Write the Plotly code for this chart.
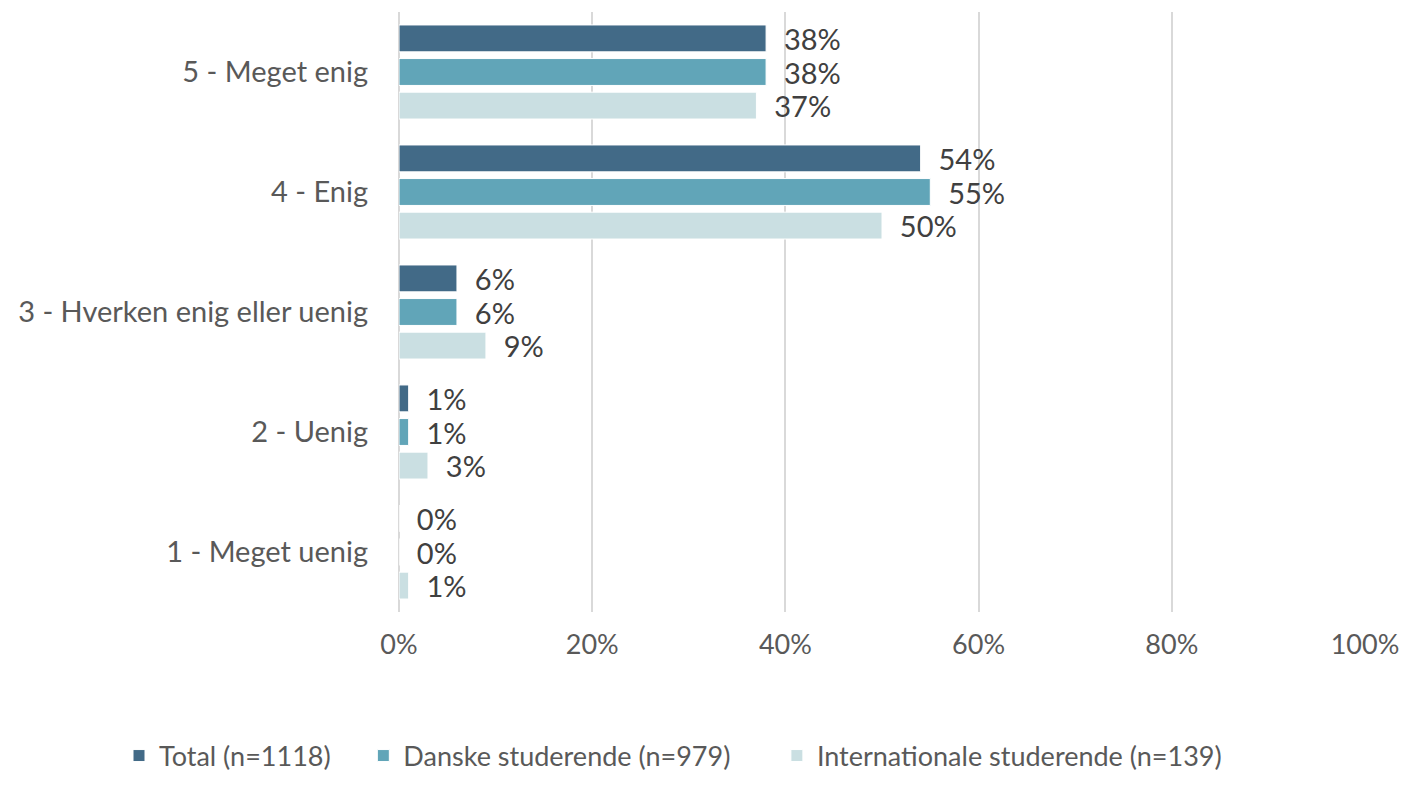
import plotly.graph_objects as go

categories = ["5 - Meget enig", "4 - Enig", "3 - Hverken enig eller uenig", "2 - Uenig", "1 - Meget uenig"]
total = [38, 54, 6, 1, 0]
danske = [38, 55, 6, 1, 0]
intl = [37, 50, 9, 3, 1]
series_names = ["Total (n=1118)", "Danske studerende (n=979)", "Internationale studerende (n=139)"]
colors = ["#426A87", "#61A5B8", "#CADFE2"]
x_ticks = [0, 20, 40, 60, 80, 100]
x_tick_labels = ["0%", "20%", "40%", "60%", "80%", "100%"]

FONT = "Lato"
FS = 29
pads = [4, 6, 0]
fig = go.Figure()
for name, vals, col, p in zip(series_names, [total, danske, intl], colors, pads):
    fig.add_trace(go.Bar(
        y=categories, x=vals, name=name + "\u00a0" * p, orientation="h",
        marker=dict(color=col, line=dict(color="white", width=1)),
        text=[f"\u00a0\u00a0{v}%" for v in vals], textposition="outside",
        constraintext="none",
        textfont=dict(family=FONT, size=FS, color="#404040"),
        cliponaxis=False,
    ))

# page body has an 8px margin: figure is placed at (8, 8)
L, R = 391, 34
W = 1391
PW = W - L - R
fig.update_layout(
    width=W, height=771,
    paper_bgcolor="white", plot_bgcolor="white",
    margin=dict(l=L, r=R, t=4, b=167, autoexpand=False),
    barmode="group", bargap=0.16, bargroupgap=0.2,
    font=dict(family=FONT, size=FS, color="#595959"),
    xaxis=dict(range=[0, 100], tickvals=x_ticks, ticktext=x_tick_labels,
               showgrid=True, gridcolor="#D9D9D9", gridwidth=1.5,
               zeroline=True, zerolinecolor="#D9D9D9", zerolinewidth=1.5,
               showline=False, ticks="", ticklabelstandoff=14,
               ticklabeloverflow="allow",
               tickfont=dict(family=FONT, size=27, color="#595959")),
    yaxis=dict(autorange="reversed", showgrid=False, showline=False, ticks="",
               ticklabelstandoff=30,
               tickfont=dict(family=FONT, size=FS, color="#595959")),
    legend=dict(orientation="h", x=(111 - L) / PW, xanchor="left", xref="paper",
                y=-0.24, yanchor="middle",
                font=dict(family=FONT, size=27, color="#595959"),
                traceorder="normal"),
    showlegend=True,
)
fig.write_html("out.html")
